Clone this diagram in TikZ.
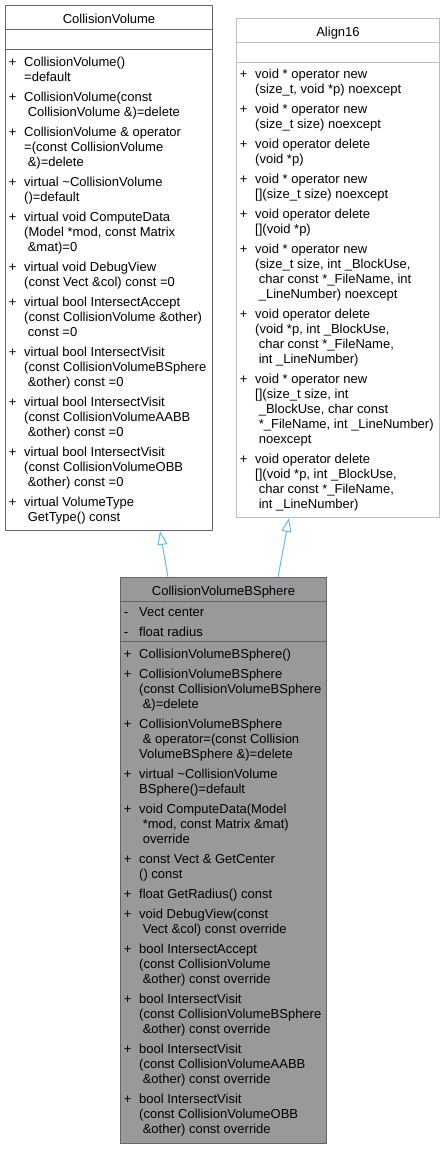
\documentclass[tikz,border=0pt]{standalone}
\usepackage{fontspec}
\setmainfont{Liberation Sans}
\usetikzlibrary{calc, arrows.meta}

\definecolor{edgeblue}{HTML}{63B8FF}
\definecolor{darkframe}{HTML}{666666}
\definecolor{lightframe}{HTML}{BFBFBF}
\definecolor{basefill}{HTML}{999999}

\newcommand{\pubm}[1]{\makebox[15.3pt][l]{+}\begin{tabular}[t]{@{}l@{}}#1\end{tabular}}
\newcommand{\privm}[1]{\makebox[15.3pt][l]{-}\begin{tabular}[t]{@{}l@{}}#1\end{tabular}}

\begin{document}
\begin{tikzpicture}[x=1pt,y=-1pt]
\tikzstyle{classbox}=[rectangle,draw=darkframe,line width=1pt,fill=white,anchor=north west,inner sep=0pt]
\tikzstyle{member}=[anchor=base west,inner sep=0pt,font=\fontsize{13}{15}\selectfont]
\tikzstyle{classname}=[anchor=base,inner sep=0pt,font=\fontsize{13}{15}\selectfont]
\tikzstyle{inherit}=[draw=edgeblue,line width=1pt,-{Triangle[open,length=14pt,width=10pt]}]
\useasboundingbox (0,0) rectangle (445,1149);

% CollisionVolume
\node[classbox,minimum width=207pt,minimum height=525pt] (cv) at (5,5) {};
\draw[darkframe,line width=1pt] ([yshift=-24pt]cv.north west) -- ([yshift=-24pt]cv.north east);
\draw[darkframe,line width=1pt] ([yshift=-44pt]cv.north west) -- ([yshift=-44pt]cv.north east);
\node[classname] (cvname) at ([yshift=-18.5pt]cv.north) {CollisionVolume};
\node[member] (cv1) at (8.7,66.5) {\pubm{CollisionVolume()\\=default}};
\node[member] (cv2) at (8.7,101.5) {\pubm{CollisionVolume(const\\\ CollisionVolume \&)=delete}};
\node[member] (cv3) at (8.7,136.5) {\pubm{CollisionVolume \& operator\\=(const CollisionVolume\\\ \&)=delete}};
\node[member] (cv4) at (8.7,186.5) {\pubm{virtual \textasciitilde CollisionVolume\\()=default}};
\node[member] (cv5) at (8.7,221.5) {\pubm{virtual void ComputeData\\(Model *mod, const Matrix\\\ \&mat)=0}};
\node[member] (cv6) at (8.7,271.5) {\pubm{virtual void DebugView\\(const Vect \&col) const =0}};
\node[member] (cv7) at (8.7,306.5) {\pubm{virtual bool IntersectAccept\\(const CollisionVolume \&other)\\\ const =0}};
\node[member] (cv8) at (8.7,356.5) {\pubm{virtual bool IntersectVisit\\(const CollisionVolumeBSphere\\\ \&other) const =0}};
\node[member] (cv9) at (8.7,406.5) {\pubm{virtual bool IntersectVisit\\(const CollisionVolumeAABB\\\ \&other) const =0}};
\node[member] (cv10) at (8.7,456.5) {\pubm{virtual bool IntersectVisit\\(const CollisionVolumeOBB\\\ \&other) const =0}};
\node[member] (cv11) at (8.7,506.5) {\pubm{virtual VolumeType\\\ GetType() const}};

% Align16
\node[classbox,draw=lightframe,minimum width=203pt,minimum height=499pt] (al) at (236,18) {};
\draw[lightframe,line width=1pt] ([yshift=-24pt]al.north west) -- ([yshift=-24pt]al.north east);
\draw[lightframe,line width=1pt] ([yshift=-44pt]al.north west) -- ([yshift=-44pt]al.north east);
\node[classname] (alname) at ([yshift=-18.5pt]al.north) {Align16};
\node[member] (al1) at (239.7,78.5) {\pubm{void * operator new\\(size\_t, void *p) noexcept}};
\node[member] (al2) at (239.7,113.5) {\pubm{void * operator new\\(size\_t size) noexcept}};
\node[member] (al3) at (239.7,148.5) {\pubm{void operator delete\\(void *p)}};
\node[member] (al4) at (239.7,183.5) {\pubm{void * operator new\\{}[](size\_t size) noexcept}};
\node[member] (al5) at (239.7,218.5) {\pubm{void operator delete\\{}[](void *p)}};
\node[member] (al6) at (239.7,253.5) {\pubm{void * operator new\\(size\_t size, int \_BlockUse,\\\ char const *\_FileName, int\\\ \_LineNumber) noexcept}};
\node[member] (al7) at (239.7,318.5) {\pubm{void operator delete\\(void *p, int \_BlockUse,\\\ char const *\_FileName,\\\ int \_LineNumber)}};
\node[member] (al8) at (239.7,383.5) {\pubm{void * operator new\\{}[](size\_t size, int\\\ \_BlockUse, char const\\\ *\_FileName, int \_LineNumber)\\\ noexcept}};
\node[member] (al9) at (239.7,463.5) {\pubm{void operator delete\\{}[](void *p, int \_BlockUse,\\\ char const *\_FileName,\\\ int \_LineNumber)}};

% CollisionVolumeBSphere
\node[classbox,fill=basefill,minimum width=206pt,minimum height=566pt] (bs) at (120,577) {};
\draw[darkframe,line width=1pt] ([yshift=-24pt]bs.north west) -- ([yshift=-24pt]bs.north east);
\draw[darkframe,line width=1pt] ([yshift=-64pt]bs.north west) -- ([yshift=-64pt]bs.north east);
\node[classname] (bsname) at ([yshift=-18.5pt]bs.north) {CollisionVolumeBSphere};
\node[member] (bsa1) at (123.7,616.5) {\privm{Vect center}};
\node[member] (bsa2) at (123.7,636.5) {\privm{float radius}};
\node[member] (bs1) at (123.7,658.5) {\pubm{CollisionVolumeBSphere()}};
\node[member] (bs2) at (123.7,678.5) {\pubm{CollisionVolumeBSphere\\(const CollisionVolumeBSphere\\\ \&)=delete}};
\node[member] (bs3) at (123.7,728.5) {\pubm{CollisionVolumeBSphere\\\ \& operator=(const Collision\\VolumeBSphere \&)=delete}};
\node[member] (bs4) at (123.7,778.5) {\pubm{virtual \textasciitilde CollisionVolume\\BSphere()=default}};
\node[member] (bs5) at (123.7,813.5) {\pubm{void ComputeData(Model\\\ *mod, const Matrix \&mat)\\\ override}};
\node[member] (bs6) at (123.7,863.5) {\pubm{const Vect \& GetCenter\\() const}};
\node[member] (bs7) at (123.7,898.5) {\pubm{float GetRadius() const}};
\node[member] (bs8) at (123.7,918.5) {\pubm{void DebugView(const\\\ Vect \&col) const override}};
\node[member] (bs9) at (123.7,953.5) {\pubm{bool IntersectAccept\\(const CollisionVolume\\\ \&other) const override}};
\node[member] (bs10) at (123.7,1003.5) {\pubm{bool IntersectVisit\\(const CollisionVolumeBSphere\\\ \&other) const override}};
\node[member] (bs11) at (123.7,1053.5) {\pubm{bool IntersectVisit\\(const CollisionVolumeAABB\\\ \&other) const override}};
\node[member] (bs12) at (123.7,1103.5) {\pubm{bool IntersectVisit\\(const CollisionVolumeOBB\\\ \&other) const override}};

% inheritance
\draw[inherit] ($(bs.north west)+(48,0)$) -- ($(cv.south west)+(155,0)$);
\draw[inherit] ($(bs.north west)+(158,0)$) -- ($(al.south west)+(53,0)$);
\end{tikzpicture}
\end{document}
